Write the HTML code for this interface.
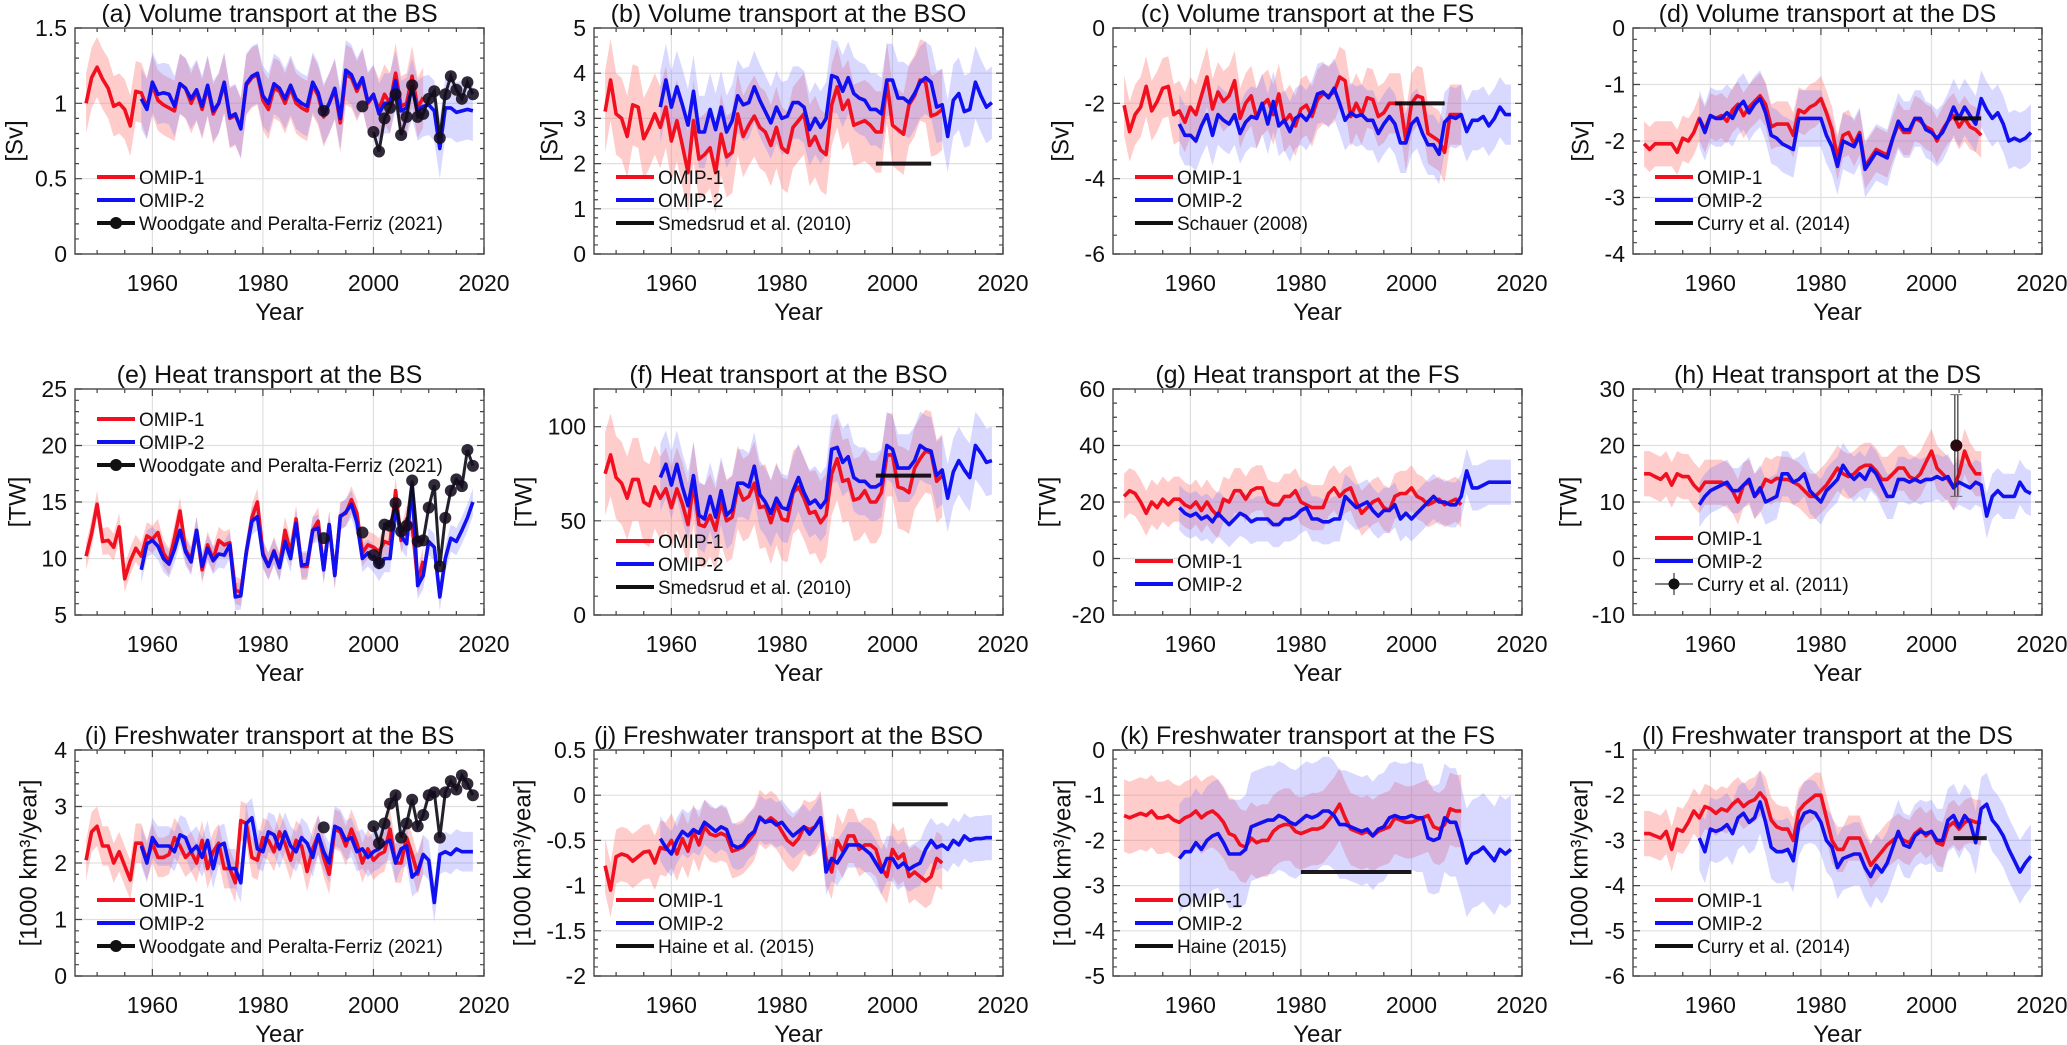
<!DOCTYPE html>
<html><head><meta charset="utf-8">
<style>
html,body{margin:0;padding:0;background:#fff;}
svg{display:block;font-family:"Liberation Sans",Arial,sans-serif;}
</style></head>
<body>
<svg id="fig" width="2067" height="1045" viewBox="0 0 2067 1045"></svg>
<script>
// ---------- data ----------
const xTickLabels=['1960','1980','2000','2020'];
const xTickYears=[1960,1980,2000,2020];
const om1Start=1948, om2Start=1958;

const aOm1=[1.0,1.17,1.24,1.16,1.1,0.98,1.0,0.96,0.85,1.08,1.07,0.97,1.12,1.02,0.99,0.97,0.95,1.13,1.1,1.0,1.08,0.96,1.11,0.93,1.0,1.13,0.9,0.92,0.84,1.12,1.17,1.19,1.02,0.96,1.1,1.08,1.0,1.1,1.0,0.97,0.95,1.12,1.05,0.91,1.0,1.09,0.87,1.19,1.17,1.08,1.16,1.0,1.05,0.96,1.06,1.0,1.2,0.98,1.0,1.18,0.97,1.04];
const aOm2=[1.03,0.96,1.14,1.06,1.07,1.06,0.98,1.13,1.1,1.03,1.09,0.98,1.12,0.95,1.0,1.14,0.91,0.93,0.83,1.13,1.18,1.2,1.05,1.0,1.13,1.1,1.03,1.12,1.03,1.0,0.98,1.14,1.07,0.93,1.0,1.1,0.9,1.22,1.19,1.1,1.17,1.01,1.06,0.93,1.0,1.0,1.15,0.95,0.97,1.1,0.95,0.98,0.99,0.95,0.7,0.97,0.97,0.94,0.95,0.96,0.95];
const aObsYears=[1991,1998,2000,2001,2002,2003,2004,2005,2006,2007,2008,2009,2010,2011,2012,2013,2014,2015,2016,2017,2018];
const aObsVals=[0.95,0.98,0.81,0.68,0.9,0.97,1.06,0.79,0.91,1.12,0.91,0.93,1.03,1.08,0.77,1.06,1.18,1.09,1.03,1.14,1.06];

const bOm1=[3.15,3.85,3.1,3.0,2.6,3.3,3.25,2.55,2.8,3.1,2.8,3.25,2.5,2.95,2.4,1.8,2.95,2.1,2.2,2.35,1.8,2.65,2.15,2.25,3.1,2.6,2.85,3.05,2.8,2.7,2.4,2.8,2.35,2.25,2.8,2.95,3.1,2.4,2.6,2.3,2.2,3.3,3.7,3.2,3.4,2.85,2.9,2.95,2.85,2.7,2.7,3.8,2.85,2.75,2.65,3.3,3.5,3.85,3.8,3.05,3.1,3.2];
const bOm2=[3.25,3.85,3.25,3.7,3.3,2.85,3.6,2.7,2.7,3.2,2.75,3.25,2.7,2.95,3.5,3.3,3.35,3.7,3.4,3.15,2.9,3.25,3.0,3.05,3.35,3.35,3.25,2.75,3.0,2.8,3.0,3.95,3.9,3.6,3.9,3.55,3.45,3.4,3.2,3.2,3.1,3.85,3.85,3.45,3.45,3.35,3.55,3.8,3.9,3.8,3.25,3.3,2.6,3.4,3.55,3.15,3.2,3.8,3.5,3.25,3.35];
const bObsSpan=[1997,2007]; const bObsVal=2.0;

const cOm1=[-2.05,-2.75,-2.3,-2.1,-1.55,-2.2,-1.95,-1.6,-1.55,-2.3,-2.2,-2.5,-2.1,-2.3,-1.8,-1.3,-2.15,-1.7,-1.95,-1.8,-1.4,-2.4,-2.0,-1.8,-2.4,-2.05,-1.9,-2.3,-1.75,-2.5,-2.3,-2.6,-2.15,-2.05,-2.35,-1.9,-1.75,-1.8,-1.7,-1.3,-1.4,-2.35,-2.0,-2.3,-1.85,-1.9,-2.35,-2.25,-2.0,-2.0,-2.0,-3.0,-2.0,-1.8,-1.85,-2.8,-2.9,-3.0,-3.3,-2.3,-2.3,-2.3];
const cOm2=[-2.55,-2.85,-2.85,-3.0,-2.6,-2.3,-2.85,-2.3,-2.45,-2.55,-2.3,-2.8,-2.5,-2.35,-2.4,-2.0,-2.55,-1.95,-2.6,-2.45,-2.75,-2.4,-2.3,-2.45,-2.2,-1.75,-1.7,-1.85,-1.6,-2.0,-2.45,-2.25,-2.35,-2.3,-2.45,-2.45,-2.8,-2.55,-2.35,-2.55,-3.05,-3.05,-2.55,-2.4,-2.8,-3.1,-3.1,-3.35,-2.5,-2.35,-2.4,-2.3,-2.75,-2.45,-2.45,-2.35,-2.6,-2.4,-2.1,-2.3,-2.3];
const cObsSpan=[1997,2006]; const cObsVal=-2.0;

const dOm1=[-2.05,-2.15,-2.05,-2.05,-2.05,-2.05,-2.2,-1.95,-2.0,-1.85,-1.6,-1.8,-1.55,-1.6,-1.55,-1.65,-1.45,-1.35,-1.55,-1.4,-1.3,-1.2,-1.35,-1.75,-1.7,-1.7,-1.7,-1.9,-1.45,-1.5,-1.4,-1.35,-1.25,-1.5,-1.8,-2.3,-1.9,-1.85,-2.05,-1.85,-2.45,-2.3,-2.15,-2.2,-2.25,-1.95,-1.7,-1.85,-1.85,-1.6,-1.65,-1.75,-1.8,-2.0,-1.8,-1.65,-1.55,-1.75,-1.6,-1.75,-1.8,-1.9];
const dOm2=[-1.6,-1.85,-1.55,-1.6,-1.6,-1.5,-1.6,-1.4,-1.3,-1.5,-1.35,-1.25,-1.5,-1.9,-1.95,-2.05,-2.1,-2.15,-1.6,-1.6,-1.6,-1.6,-1.6,-1.9,-2.1,-2.45,-2.0,-2.05,-2.1,-1.9,-2.5,-2.35,-2.2,-2.25,-2.3,-1.95,-1.65,-1.8,-1.8,-1.6,-1.6,-1.8,-1.85,-1.95,-1.85,-1.65,-1.4,-1.6,-1.4,-1.55,-1.7,-1.25,-1.45,-1.6,-1.5,-1.7,-2.0,-1.95,-2.0,-1.95,-1.85];
const dObsSpan=[2004,2009]; const dObsVal=-1.6;

const eOm1=[10.2,12.2,14.8,11.5,11.6,11.0,12.8,8.2,9.8,10.9,10.2,12.0,11.7,12.3,10.5,9.7,11.8,14.2,10.8,9.9,12.5,9.0,11.2,9.9,11.6,11.2,11.4,7.2,7.0,10.5,13.6,15.0,10.5,9.3,10.7,9.3,12.5,10.5,13.5,9.3,9.3,12.5,13.3,9.0,13.0,8.5,13.8,14.0,15.2,14.0,10.5,11.2,11.0,10.6,11.5,11.3,16.0,11.6,13.5,13.0,8.0,9.8];
const eOm2=[9.0,11.3,11.6,11.1,10.0,9.5,10.8,12.5,10.6,9.7,12.5,9.3,10.9,9.8,10.4,10.3,11.2,6.6,6.7,10.6,13.3,13.7,10.3,9.3,10.6,9.2,11.5,10.0,13.1,9.4,9.5,12.5,12.7,9.0,13.0,8.5,13.7,14.1,14.8,13.2,10.0,10.5,10.0,9.2,10.0,10.0,14.5,12.0,11.3,16.5,7.6,8.5,11.5,11.0,6.6,10.0,11.8,11.5,12.5,13.6,15.0];
const eObsYears=[1991,1998,2000,2001,2002,2003,2004,2005,2006,2007,2008,2009,2010,2011,2012,2013,2014,2015,2016,2017,2018];
const eObsVals=[11.8,12.3,10.3,9.6,13.0,12.9,14.9,12.4,12.9,16.9,11.5,11.6,14.5,16.5,9.3,13.6,16.0,17.0,16.4,19.6,18.2];

const fOm1=[75,85,73,70,62,72,72,60,58,68,62,67,57,67,59,48,70,48,47,53,45,60,50,52,68,61,63,70,57,58,49,59,51,50,65,68,62,54,55,49,53,75,83,71,72,61,62,66,60,60,65,85,85,68,67,65,78,83,87,86,71,74];
const fOm2=[73,80,69,80,68,58,74,53,51,63,52,66,53,56,70,70,68,79,64,60,54,62,57,56,66,73,65,59,61,57,61,88,89,81,84,73,71,71,68,68,70,90,88,78,78,78,82,90,88,87,74,77,62,76,82,77,73,90,86,81,82];
const fObsSpan=[1997,2007]; const fObsVal=74;

const gOm1=[22,24,23,20,16,20,18,21,19,21,21,19,18,20,17,20,17,15,21,20,24,24,21,24,25,25,20,19,19,22,22,24,20,19,18,18,18,23,25,22,24,25,20,16,18,20,21,18,17,22,23,23,25,22,21,19,20,21,19,20,21,19];
const gOm2=[18,16,15,16,14,15,13,16,14,12,14,16,15,13,14,14,14,12,12,14,14,15,17,18,14,14,13,13,14,14,22,20,18,19,20,17,15,17,17,19,14,16,14,16,18,20,22,20,20,19,19,22,31,25,25,26,27,27,27,27,27];

const hOm1=[15,15,14.5,14,15,13,15,14.5,14.5,13,12,13.5,13.5,13.5,13.5,13,12,10,13,13.5,11,12,14,13.5,14.2,14,14,13.5,13,12,11,11,12,13,14.5,16,15,14.5,15,16,16.5,16.5,15.5,14,14,15,16,16,14.5,14,15,17,19,16,15,14,12.5,15,19,16.5,15,15];
const hOm2=[9.5,11,12,12.5,13,13.5,12,12,13,14,11,12.5,10,10.5,11,15,15,13.5,14,15,12,11,10,12,13,14,16.5,15,14,15,14,16,15,13,11,11,14,14,13.5,14,13.5,14,14,14.5,14,14.5,12.5,13.5,13,12.5,13.5,13,7.5,11,12,11,11,11,13.5,12,11.5];
const hObsYear=2004.5; const hObsVal=20; const hObsErr=[11,29];

const iOm1=[2.05,2.55,2.65,2.3,2.3,2.0,2.2,1.95,1.7,2.35,2.35,2.05,2.35,2.1,2.1,2.15,2.45,2.3,2.1,2.2,2.0,2.4,1.9,2.2,2.35,1.9,1.9,1.65,2.75,2.7,2.1,2.05,2.45,2.4,2.2,2.55,2.35,2.05,2.4,2.3,1.85,2.25,2.5,2.1,1.8,2.6,2.55,2.3,2.6,2.35,2.0,2.25,2.05,2.15,2.2,2.6,2.0,2.0,2.45,2.15,1.8,2.15];
const iOm2=[2.3,2.0,2.45,2.3,2.3,2.3,2.2,2.5,2.45,2.2,2.3,2.1,2.4,1.9,2.3,2.35,1.9,1.9,1.65,2.7,2.8,2.25,2.2,2.55,2.5,2.25,2.55,2.3,2.2,2.45,2.35,2.1,2.5,2.2,2.0,2.65,2.6,2.4,2.45,2.2,2.25,2.1,2.2,2.25,2.35,2.4,2.0,2.25,2.3,1.75,1.85,2.15,2.05,1.3,2.15,2.2,2.15,2.25,2.2,2.2,2.2];
const iObsYears=[1991,2000,2001,2002,2003,2004,2005,2006,2007,2008,2009,2010,2011,2012,2013,2014,2015,2016,2017,2018];
const iObsVals=[2.63,2.65,2.35,2.7,3.05,3.2,2.45,2.7,3.12,2.65,2.85,3.2,3.25,2.45,3.25,3.45,3.3,3.55,3.4,3.2];

const jOm1=[-0.78,-1.05,-0.68,-0.65,-0.67,-0.73,-0.68,-0.63,-0.62,-0.75,-0.58,-0.6,-0.5,-0.65,-0.48,-0.62,-0.4,-0.55,-0.35,-0.43,-0.45,-0.42,-0.45,-0.62,-0.6,-0.57,-0.5,-0.42,-0.24,-0.3,-0.25,-0.3,-0.4,-0.5,-0.55,-0.48,-0.35,-0.38,-0.35,-0.25,-0.7,-0.85,-0.5,-0.62,-0.45,-0.45,-0.6,-0.55,-0.55,-0.6,-0.8,-0.9,-0.6,-0.7,-0.65,-0.9,-0.85,-0.9,-0.95,-0.9,-0.7,-0.75];
const jOm2=[-0.48,-0.58,-0.65,-0.5,-0.4,-0.45,-0.38,-0.42,-0.3,-0.35,-0.4,-0.35,-0.38,-0.55,-0.58,-0.55,-0.45,-0.4,-0.25,-0.3,-0.28,-0.33,-0.3,-0.38,-0.45,-0.4,-0.35,-0.43,-0.35,-0.25,-0.85,-0.7,-0.75,-0.65,-0.55,-0.55,-0.55,-0.6,-0.65,-0.75,-0.85,-0.7,-0.7,-0.8,-0.75,-0.82,-0.78,-0.75,-0.6,-0.5,-0.58,-0.55,-0.6,-0.5,-0.55,-0.45,-0.5,-0.48,-0.48,-0.47,-0.47];
const jObsSpan=[2000,2010]; const jObsVal=-0.1;

const kOm1=[-1.45,-1.5,-1.45,-1.4,-1.45,-1.35,-1.5,-1.5,-1.45,-1.55,-1.6,-1.5,-1.45,-1.35,-1.5,-1.4,-1.35,-1.45,-1.6,-1.85,-1.9,-2.1,-2.15,-1.95,-2.05,-2.0,-2.0,-1.8,-1.7,-1.65,-1.65,-1.8,-1.85,-1.8,-1.75,-1.75,-1.7,-1.55,-1.4,-1.2,-1.5,-1.75,-1.8,-1.85,-1.8,-1.9,-1.8,-1.75,-1.7,-1.5,-1.55,-1.6,-1.6,-1.55,-1.5,-1.45,-1.7,-1.75,-1.65,-1.3,-1.35,-1.35];
const kOm2=[-2.4,-2.25,-2.25,-2.05,-2.2,-2.0,-1.9,-1.85,-2.05,-2.3,-2.3,-2.3,-2.2,-1.7,-1.65,-1.6,-1.55,-1.55,-1.45,-1.5,-1.6,-1.65,-1.55,-1.45,-1.5,-1.45,-1.35,-1.35,-1.45,-1.65,-1.65,-1.7,-1.75,-1.8,-1.75,-1.9,-1.75,-1.7,-1.5,-1.45,-1.5,-1.5,-1.45,-1.5,-1.5,-1.95,-2.0,-1.95,-1.5,-1.6,-1.6,-2.0,-2.5,-2.3,-2.25,-2.15,-2.3,-2.45,-2.2,-2.3,-2.2];
const kObsSpan=[1980,2000]; const kObsVal=-2.7;

const lOm1=[-2.85,-2.85,-2.9,-2.95,-2.8,-3.2,-2.75,-2.8,-2.6,-2.35,-2.5,-2.25,-2.3,-2.4,-2.3,-2.35,-2.2,-2.1,-2.25,-2.15,-2.1,-1.95,-2.1,-2.55,-2.7,-2.75,-2.75,-3.0,-2.35,-2.2,-2.1,-2.0,-2.0,-2.5,-3.0,-3.2,-3.2,-2.95,-2.95,-2.95,-3.25,-3.55,-3.4,-3.25,-3.1,-3.0,-2.9,-3.0,-3.05,-2.85,-2.75,-2.9,-2.8,-3.05,-3.1,-2.7,-2.6,-2.75,-2.6,-2.55,-2.6,-2.6];
const lOm2=[-2.95,-3.25,-2.75,-2.8,-2.75,-2.65,-2.85,-2.5,-2.4,-2.6,-2.5,-2.15,-2.6,-3.15,-3.25,-3.25,-3.2,-3.45,-2.65,-2.4,-2.35,-2.4,-2.6,-3.0,-3.15,-3.6,-3.4,-3.35,-3.3,-3.3,-3.6,-3.8,-3.55,-3.7,-3.5,-3.15,-2.8,-3.1,-3.15,-2.9,-2.8,-2.85,-2.8,-3.0,-3.0,-2.55,-2.45,-2.7,-2.45,-2.6,-3.05,-2.3,-2.2,-2.55,-2.7,-2.9,-3.2,-3.45,-3.7,-3.5,-3.35];
const lObsSpan=[2004,2010]; const lObsVal=-2.95;

// ensemble spread (half-width) per panel
const spreadOm1=[0.2,0.9,0.8,0.4,1.2,22,8,4,0.35,0.3,0.8,0.5];
const spreadOm2=[0.2,0.8,0.8,0.5,1.2,18,8,4,0.35,0.25,1.2,0.7];

// ---------- drawing ----------
const NS='http://www.w3.org/2000/svg';
const svg=document.getElementById('fig');
function mk(tag,attrs,parent){const e=document.createElementNS(NS,tag);for(const k in attrs)e.setAttribute(k,attrs[k]);(parent||svg).appendChild(e);return e;}

const colX=[75,594,1113,1633], rowY=[28,389,750], PW=409, PH=226, X0=1946, X1=2020;
const RED='#f01020', BLUE='#1010f0';

const panels=[
 {id:'a',t:'(a) Volume transport at the BS',yl:'[Sv]',ylo:-60,r:0,c:0,ymin:0,ymax:1.5,yt:[0,0.5,1,1.5],ytl:['0','0.5','1','1.5'],ym:0.1,o1:aOm1,o2:aOm2,dots:[aObsYears,aObsVals],leg:149,obsName:'Woodgate and Peralta-Ferriz (2021)',obsType:'dots'},
 {id:'b',t:'(b) Volume transport at the BSO',yl:'[Sv]',ylo:-44,r:0,c:1,ymin:0,ymax:5,yt:[0,1,2,3,4,5],ytl:['0','1','2','3','4','5'],ym:0.2,o1:bOm1,o2:bOm2,bar:[bObsSpan,bObsVal],leg:149,obsName:'Smedsrud et al. (2010)',obsType:'bar'},
 {id:'c',t:'(c) Volume transport at the FS',yl:'[Sv]',ylo:-52,r:0,c:2,ymin:-6,ymax:0,yt:[-6,-4,-2,0],ytl:['-6','-4','-2','0'],ym:0.5,o1:cOm1,o2:cOm2,bar:[cObsSpan,cObsVal],leg:149,obsName:'Schauer (2008)',obsType:'bar'},
 {id:'d',t:'(d) Volume transport at the DS',yl:'[Sv]',ylo:-52,r:0,c:3,ymin:-4,ymax:0,yt:[-4,-3,-2,-1,0],ytl:['-4','-3','-2','-1','0'],ym:0.2,o1:dOm1,o2:dOm2,bar:[dObsSpan,dObsVal],leg:149,obsName:'Curry et al. (2014)',obsType:'bar'},
 {id:'e',t:'(e) Heat transport at the BS',yl:'[TW]',ylo:-57,r:1,c:0,ymin:5,ymax:25,yt:[5,10,15,20,25],ytl:['5','10','15','20','25'],ym:1,o1:eOm1,o2:eOm2,dots:[eObsYears,eObsVals],leg:30,obsName:'Woodgate and Peralta-Ferriz (2021)',obsType:'dots'},
 {id:'f',t:'(f) Heat transport at the BSO',yl:'[TW]',ylo:-70,r:1,c:1,ymin:0,ymax:120,yt:[0,50,100],ytl:['0','50','100'],ym:10,o1:fOm1,o2:fOm2,bar:[fObsSpan,fObsVal],leg:152,obsName:'Smedsrud et al. (2010)',obsType:'bar'},
 {id:'g',t:'(g) Heat transport at the FS',yl:'[TW]',ylo:-65,r:1,c:2,ymin:-20,ymax:60,yt:[-20,0,20,40,60],ytl:['-20','0','20','40','60'],ym:5,o1:gOm1,o2:gOm2,leg:172,obsName:null},
 {id:'h',t:'(h) Heat transport at the DS',yl:'[TW]',ylo:-64,r:1,c:3,ymin:-10,ymax:30,yt:[-10,0,10,20,30],ytl:['-10','0','10','20','30'],ym:2,o1:hOm1,o2:hOm2,err:true,leg:149,obsName:'Curry et al. (2011)',obsType:'err'},
 {id:'i',t:'(i) Freshwater transport at the BS',yl:'[1000 km³/year]',ylo:-46,r:2,c:0,ymin:0,ymax:4,yt:[0,1,2,3,4],ytl:['0','1','2','3','4'],ym:0.2,o1:iOm1,o2:iOm2,dots:[iObsYears,iObsVals],leg:150,obsName:'Woodgate and Peralta-Ferriz (2021)',obsType:'dots'},
 {id:'j',t:'(j) Freshwater transport at the BSO',yl:'[1000 km³/year]',ylo:-71,r:2,c:1,ymin:-2,ymax:0.5,yt:[-2,-1.5,-1,-0.5,0,0.5],ytl:['-2','-1.5','-1','-0.5','0','0.5'],ym:0.1,o1:jOm1,o2:jOm2,bar:[jObsSpan,jObsVal],leg:150,obsName:'Haine et al. (2015)',obsType:'bar'},
 {id:'k',t:'(k) Freshwater transport at the FS',yl:'[1000 km³/year]',ylo:-50,r:2,c:2,ymin:-5,ymax:0,yt:[-5,-4,-3,-2,-1,0],ytl:['-5','-4','-3','-2','-1','0'],ym:0.2,o1:kOm1,o2:kOm2,bar:[kObsSpan,kObsVal],leg:150,obsName:'Haine (2015)',obsType:'bar'},
 {id:'l',t:'(l) Freshwater transport at the DS',yl:'[1000 km³/year]',ylo:-53,r:2,c:3,ymin:-6,ymax:-1,yt:[-6,-5,-4,-3,-2,-1],ytl:['-6','-5','-4','-3','-2','-1'],ym:0.2,o1:lOm1,o2:lOm2,bar:[lObsSpan,lObsVal],leg:150,obsName:'Curry et al. (2014)',obsType:'bar'}
];

panels.forEach((p,pi)=>{
  const L=colX[p.c], T=rowY[p.r];
  const sx=v=>L+(v-X0)/(X1-X0)*PW;
  const sy=v=>T+PH-(v-p.ymin)/(p.ymax-p.ymin)*PH;
  const g=mk('g',{});
  
  
  const clipId='clip'+p.id;
  const cp=mk('clipPath',{id:clipId},g); mk('rect',{x:L,y:T,width:PW,height:PH},cp);
  xTickYears.forEach(yr=>{const ln=mk('line',{x1:sx(yr),x2:sx(yr),y1:T,y2:T+PH,stroke:'#e0e0e0','stroke-width':1.2},g);});
  p.yt.forEach(v=>{const ln=mk('line',{x1:L,x2:L+PW,y1:sy(v),y2:sy(v),stroke:'#e0e0e0','stroke-width':1.2},g);});
  const plot=mk('g',{'clip-path':'url(#'+clipId+')'},g);
  function band(vals,start,sp,fill,name){
    let up='',dn=[];
    vals.forEach((v,i)=>{up+=(i?'L':'M')+sx(start+i).toFixed(1)+','+sy(v+sp).toFixed(1);dn.push(sx(start+i).toFixed(1)+','+sy(v-sp).toFixed(1));});
    const e=mk('path',{d:up+'L'+dn.reverse().join('L')+'Z',fill:fill,stroke:'none'},plot);
    
    
  }
  band(p.o1,om1Start,spreadOm1[pi],'rgba(255,110,110,0.35)','omip1-spread');
  band(p.o2,om2Start,spreadOm2[pi],'rgba(120,120,255,0.28)','omip2-spread');
  function line(vals,start,col,name){
    const d=vals.map((v,i)=>(i?'L':'M')+sx(start+i).toFixed(1)+','+sy(v).toFixed(1)).join('');
    const e=mk('path',{d:d,fill:'none',stroke:col,'stroke-width':3.6,'stroke-linejoin':'round'},plot);
    
    
  }
  line(p.o1,om1Start,RED,'omip1-line');
  line(p.o2,om2Start,BLUE,'omip2-line');
  if(p.dots){
    const ys=p.dots[0], vs=p.dots[1];
    let seg='';
    for(let i=0;i<ys.length;i++){
      const cont=i>0&&ys[i]-ys[i-1]===1;
      seg+=(cont?'L':'M')+sx(ys[i]).toFixed(1)+','+sy(vs[i]).toFixed(1);
    }
    const e=mk('path',{d:seg,fill:'none',stroke:'rgba(10,10,20,0.9)','stroke-width':3},plot);
    
    
    ys.forEach((yr,i)=>{
      const c=mk('circle',{cx:sx(yr),cy:sy(vs[i]),r:6,fill:'rgba(20,12,30,0.88)'},plot);
      
      
    });
  }
  if(p.bar){
    const e=mk('line',{x1:sx(p.bar[0][0]),x2:sx(p.bar[0][1]),y1:sy(p.bar[1]),y2:sy(p.bar[1]),stroke:'rgba(10,5,10,0.92)','stroke-width':4},plot);
    
    
  }
  if(p.err){
    [-1.5,1.5].forEach(dx=>{
      const e=mk('line',{x1:sx(hObsYear)+dx,x2:sx(hObsYear)+dx,y1:sy(hObsErr[0]),y2:sy(hObsErr[1]),stroke:'#333','stroke-width':1.2},plot);
      
      
    });
    [hObsErr[0],hObsErr[1]].forEach(v=>{mk('line',{x1:sx(hObsYear)-6,x2:sx(hObsYear)+6,y1:sy(v),y2:sy(v),stroke:'#666','stroke-width':1},plot);});
    const c=mk('circle',{cx:sx(hObsYear),cy:sy(hObsVal),r:6,fill:'#2a0a10'},plot);
    
    
  }
  const fr=mk('rect',{x:L,y:T,width:PW,height:PH,fill:'none',stroke:'#555','stroke-width':1.5},g);
  
  
  let tk='';
  for(let yr=1950;yr<=2020;yr+=5){const len=(yr%20===0)?7:4;tk+='M'+sx(yr)+','+(T+PH)+'v'+(-len)+'M'+sx(yr)+','+T+'v'+len;}
  for(let v=p.ymin;v<=p.ymax+1e-9;v+=p.ym){const len=p.yt.some(t=>Math.abs(t-v)<1e-6)?7:4;tk+='M'+L+','+sy(v)+'h'+len+'M'+(L+PW)+','+sy(v)+'h'+(-len);}
  mk('path',{d:tk,stroke:'#444','stroke-width':1.2,fill:'none'},g);
  xTickYears.forEach((yr,i)=>{
    const t=mk('text',{x:sx(yr),y:T+PH+37,'font-size':23,'text-anchor':'middle',fill:'#111'},g);
    t.textContent=xTickLabels[i];
    
    
  });
  p.yt.forEach((v,i)=>{
    const t=mk('text',{x:L-8,y:sy(v)+8,'font-size':23,'text-anchor':'end',fill:'#111'},g);
    t.textContent=p.ytl[i];
    
    
  });
  const xt=mk('text',{x:L+PW/2,y:T+PH+66,'font-size':24,'text-anchor':'middle',fill:'#111'},g);
  xt.textContent='Year';
  
  
  const yx=L+p.ylo, yy=T+PH/2;
  const yt=mk('text',{x:yx,y:yy,'font-size':24,'text-anchor':'middle','dominant-baseline':'central',transform:'rotate(-90 '+yx+' '+yy+')',fill:'#111'},g);
  yt.textContent=p.yl;
  
  
  const tt=mk('text',{x:L+PW/2-10,y:T-6,'font-size':25,'text-anchor':'middle',fill:'#111'},g);
  tt.textContent=p.t;
  
  
  const entries=[['OMIP-1',RED,'line'],['OMIP-2',BLUE,'line']];
  if(p.obsName)entries.push([p.obsName,'#111',p.obsType]);
  entries.forEach((en,i)=>{
    const ly=T+p.leg+i*23, lx=L+22;
    const lg=mk('g',{},g);
    
    
    if(en[2]==='err'){
      mk('line',{x1:lx,x2:lx+38,y1:ly,y2:ly,stroke:'#333','stroke-width':1.2},lg);
      mk('line',{x1:lx+19,x2:lx+19,y1:ly-11,y2:ly+11,stroke:'#333','stroke-width':1.2},lg);
      mk('circle',{cx:lx+19,cy:ly,r:5.5,fill:'#111'},lg);
    }else{
      mk('line',{x1:lx,x2:lx+38,y1:ly,y2:ly,stroke:en[1],'stroke-width':4},lg);
      if(en[2]==='dots')mk('circle',{cx:lx+19,cy:ly,r:6,fill:'#111'},lg);
    }
    const t=mk('text',{x:lx+42,y:ly+7,'font-size':19,fill:'#111'},lg);
    t.textContent=en[0];
  });
});
</script>
</body></html>
